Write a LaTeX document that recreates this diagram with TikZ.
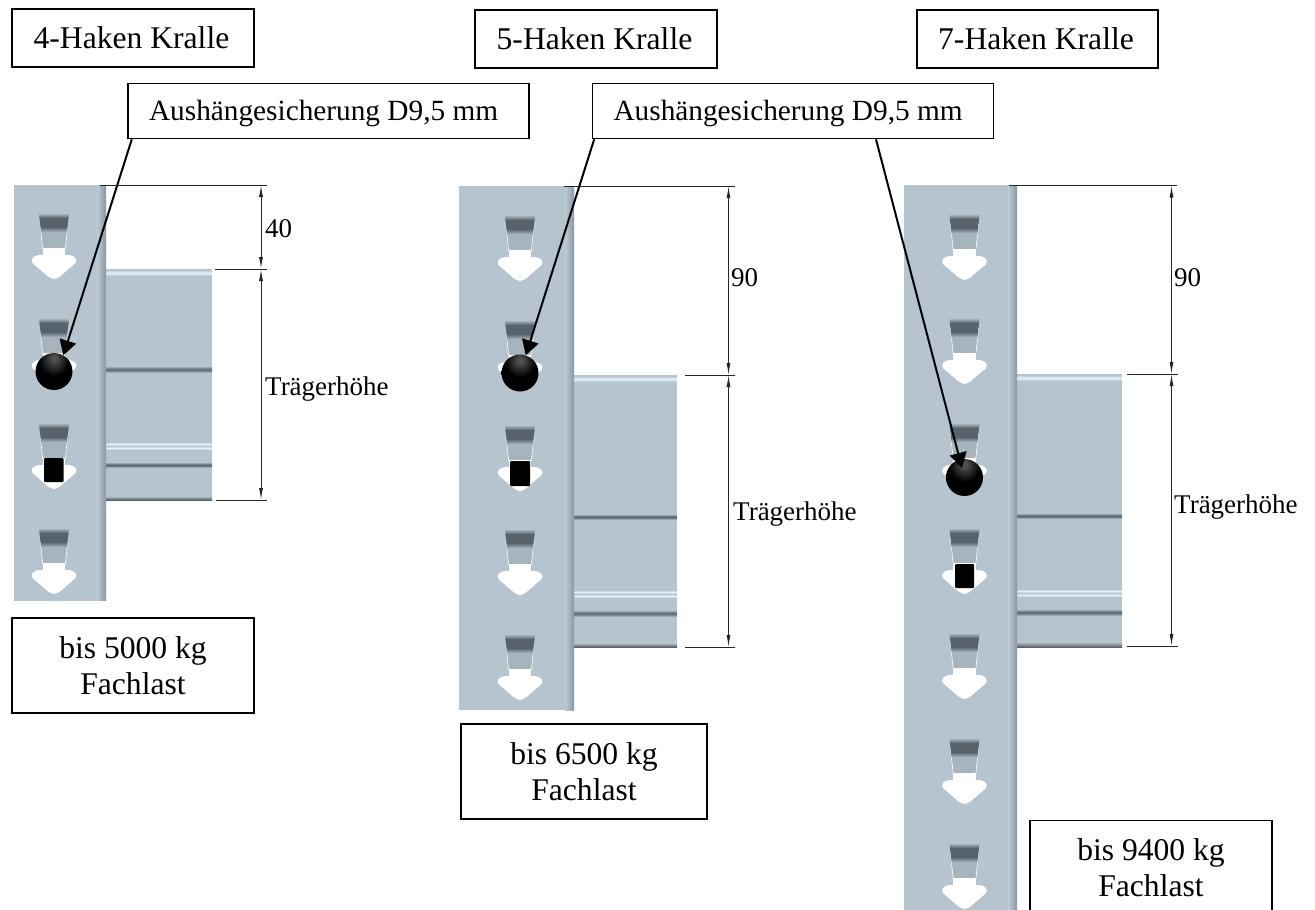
\documentclass[tikz,border=0pt]{standalone}
\usepackage{fontspec}
\setmainfont{Liberation Serif}
\usetikzlibrary{arrows.meta}
\definecolor{steel}{HTML}{B5C4CF}
\definecolor{steeldark}{HTML}{58626A}
\definecolor{steelbody}{HTML}{A6B4BE}
\definecolor{steeledge}{HTML}{8796A1}
\definecolor{steelpale}{HTML}{BDCBD5}
\definecolor{steellight}{HTML}{E6F0F6}
\pgfdeclareradialshading{sphereball}{\pgfpoint{0bp}{18bp}}{color(0bp)=(black!68!white); color(4bp)=(black!70!white); color(20bp)=(black); color(100bp)=(black)}
\newcommand{\darkband}[4]{\shade[top color=steel,bottom color=steel,middle color=steeldark] (#1,#3) rectangle (#2,#4);}
\newcommand{\lightband}[4]{\shade[top color=steel,bottom color=steel,middle color=steellight] (#1,#3) rectangle (#2,#4);}
\newcommand{\postbar}[4]{%
  \fill[steel] (#1,#3) rectangle (#2,#4);
  \shade[left color=steelpale,right color=steeledge] (#2-9,#3) rectangle (#2,#4);}
\tikzset{
  x=1pt,y=-1pt,
  box/.style={draw=black,line width=1.6pt,fill=white,align=center,inner sep=0pt,
    font=\fontsize{31.6}{36}\selectfont},
  callbox/.style={box,font=\fontsize{29.3}{35}\selectfont,text height=25.6pt,text depth=6.4pt},
  dimtext/.style={anchor=west,inner sep=0pt,font=\fontsize{27}{32}\selectfont},
  leader/.style={draw=black,line width=2pt,-{Triangle[length=15pt,width=17pt]}},
  dimline/.style={draw=black!85,line width=1pt,{Latex[length=12pt,width=4pt]}-{Latex[length=12pt,width=4pt]}},
  extline/.style={draw=black!85,line width=1pt},
  ball/.style={circle,minimum size=37pt,inner sep=0pt,shading=sphereball},
  plug/.style={fill=black,rounded corners=1pt},
  hook/.pic={
    \fill[steelbody] (-15,0) -- (15,0) -- (11.3,36) -- (-11.3,36) -- cycle;
    \draw[white,line width=0.6pt] (-14,10) -- (-11.3,36) (14,10) -- (11.3,36);
    \begin{scope}
      \clip (-15,0) -- (15,0) -- (11.3,36) -- (-11.3,36) -- cycle;
      \shade[top color=steel,bottom color=steeldark] (-16,0) rectangle (16,5);
      \fill[steeldark] (-16,5) rectangle (16,14);
      \shade[top color=steeldark,bottom color=steelbody] (-16,14) rectangle (16,19);
    \end{scope}
    \fill[white] (-11.3,35) rectangle (11.3,43);
    \fill[white,rounded corners=4pt] (-19,42) -- (19,42) -- (24,48) -- (3,66) -- (-3,66) -- (-24,48) -- cycle;
  }
}
\begin{document}
\begin{tikzpicture}
\useasboundingbox (0,0) rectangle (1315,910);
\fill[white] (0,0) rectangle (1315,910);

% beams
\fill[steel] (106,269) rectangle (212,500);
\lightband{106}{212}{270}{276}
\darkband{106}{212}{366}{373}
\lightband{106}{212}{442}{446}
\lightband{106}{212}{446}{450}
\darkband{106}{212}{462}{468}
\shade[top color=steel,bottom color=steeldark] (106,496) rectangle (212,500);

\fill[steel] (574,375) rectangle (677,647);
\lightband{574}{677}{376}{382}
\darkband{574}{677}{514}{520}
\lightband{574}{677}{590}{594}
\lightband{574}{677}{594}{598}
\darkband{574}{677}{610}{617}
\shade[top color=steel,bottom color=steeldark] (574,643) rectangle (677,647);

\fill[steel] (1017,374) rectangle (1122,647);
\lightband{1017}{1122}{375}{381}
\darkband{1017}{1122}{513}{519}
\lightband{1017}{1122}{589}{593}
\lightband{1017}{1122}{593}{597}
\darkband{1017}{1122}{609}{616}
\shade[top color=steel,bottom color=steeldark] (1017,642) rectangle (1122,647);

% posts
\postbar{14}{106}{185}{600.5}
\postbar{459}{574}{186}{710}
\postbar{904}{1017}{185}{910}

% hooks
\foreach \yy in {213,318,423,528} {\pic at (54,\yy) {hook};}
\foreach \yy in {215,320,425,529,634} {\pic at (520,\yy) {hook};}
\foreach \yy in {214,318,423,528,633,738,843} {\pic at (964.5,\yy) {hook};}

% balls and plugs
\node[ball] (ball1) at (54,371.5) {};
\node[ball] (ball2) at (520,373) {};
\node[ball] (ball3) at (964.5,477.5) {};
\fill[plug] (44,458) rectangle (63.5,482);
\fill[plug] (510,461) rectangle (530,486);
\fill[plug] (955,564) rectangle (974,588);

% boxes
\node[box,minimum width=242pt,minimum height=58.5pt] (t4) at (133,38) {4-Haken Kralle\hspace*{3pt}};
\node[box,minimum width=242pt,minimum height=58.5pt] (t5) at (596,39) {5-Haken Kralle\hspace*{3pt}};
\node[box,minimum width=241pt,minimum height=58.5pt] (t7) at (1037.5,39) {7-Haken Kralle\hspace*{3pt}};
\node[callbox,minimum width=401pt,minimum height=55pt] (call1) at (328.5,111) {Aushängesicherung D9,5 mm\hspace*{9.8pt}};
\node[callbox,minimum width=401pt,minimum height=55pt] (call2) at (793,111) {Aushängesicherung D9,5 mm\hspace*{9.8pt}};
\node[box,minimum width=241.5pt,minimum height=95pt] (load1) at (133,665.5) {bis 5000 kg\\Fachlast};
\node[box,minimum width=246pt,minimum height=95pt] (load2) at (584,771.5) {bis 6500 kg\\Fachlast};
\node[box,minimum width=241.5pt,minimum height=95pt] (load3) at (1151,868) {bis 9400 kg\\Fachlast};

% leaders
\draw[leader] ([xshift=4.6pt]call1.south west) -- (ball1.60);
\draw[leader] ([xshift=2.5pt]call2.south west) -- (ball2.72);
\draw[leader,shorten >=10pt] ([xshift=83pt]call2.south) -- (ball3.center);

% dimension coordinates
\coordinate (a1l) at (100,185);   \coordinate (a1r) at (267,185);
\coordinate (a2l) at (215,269);   \coordinate (a2r) at (267,269);
\coordinate (a3l) at (216,500);   \coordinate (a3r) at (267,500);
\coordinate (a1) at (261,185); \coordinate (a2) at (261,269); \coordinate (a3) at (261,500);
\coordinate (b1l) at (564,186);   \coordinate (b1r) at (735,186);
\coordinate (b2l) at (685,375);   \coordinate (b2r) at (735,375);
\coordinate (b3l) at (685,647);   \coordinate (b3r) at (735,647);
\coordinate (b1) at (728.5,186); \coordinate (b2) at (728.5,375); \coordinate (b3) at (728.5,647);
\coordinate (c1l) at (1008.5,185.5); \coordinate (c1r) at (1177,185.5);
\coordinate (c2l) at (1127,374);  \coordinate (c2r) at (1178,374);
\coordinate (c3l) at (1127,646);  \coordinate (c3r) at (1178,646);
\coordinate (c1) at (1171.5,185.5); \coordinate (c2) at (1171.5,374); \coordinate (c3) at (1171.5,646);
\foreach \n in {a1,a2,a3,b1,b2,b3,c1,c2,c3} {\draw[extline] (\n l) -- (\n r);}
\draw[dimline] (a1) -- (a2);
\draw[dimline] (a2) -- (a3);
\draw[dimline] (b1) -- (b2);
\draw[dimline] (b2) -- (b3);
\draw[dimline] (c1) -- (c2);
\draw[dimline] (c2) -- (c3);

% dimension labels
\node[dimtext] (d40) at (265,229) {40};
\node[dimtext] (h1) at (265,389) {Trägerhöhe};
\node[dimtext] (d90a) at (731,278) {90};
\node[dimtext] (h2) at (733,514) {Trägerhöhe};
\node[dimtext] (d90b) at (1174,278) {90};
\node[dimtext] (h3) at (1174,507) {Trägerhöhe};
\end{tikzpicture}
\end{document}
